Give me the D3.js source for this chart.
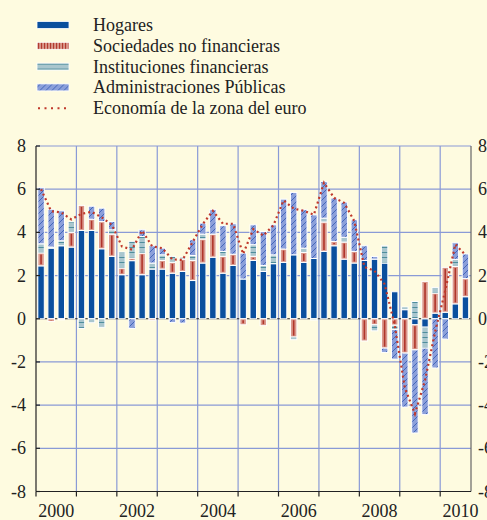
<!DOCTYPE html>
<html>
<head>
<meta charset="utf-8">
<title></title>
<script src="https://d3js.org/d3.v7.min.js"></script>
<style>
  body { margin: 0; background: #fefbe0; }
  svg { display: block; font-family: "Liberation Serif", "Times New Roman", serif; }
</style>
</head>
<body>
<script>
// trimestres 2000T1 - 2010T3
const quarters = d3.range(43).map(i => (2000 + Math.floor(i / 4)) + "T" + (i % 4 + 1))
const years = d3.range(2000, 2011)
const yearLabels = ["2000", "2002", "2004", "2006", "2008", "2010"]
const yTicks = [-8, -6, -4, -2, 0, 2, 4, 6, 8]

const hogares = [2.45, 3.27, 3.38, 3.32, 4.09, 4.09, 3.24, 2.89, 2.04, 2.69, 2.04, 2.30, 2.30, 2.11, 2.19, 1.77,
  2.58, 2.85, 2.11, 2.47, 1.84, 2.70, 2.19, 2.55, 2.61, 2.96, 2.61, 2.79, 3.12, 3.38, 2.76, 2.58,
  2.70, 2.76, 2.58, 1.25, 0.42, -0.28, -0.39, 0.26, 0.30, 0.69, 1.02]
const sociedades = [0.60, -0.13, -0.05, 0.68, 1.16, 0.52, 1.26, 1.03, 0.31, 0.12, 1.00, -0.07, 0.40, 0.50, 0.57, 0.93,
  1.11, 1.07, 0.78, 0.52, -0.28, 0.19, -0.32, 0.00, 0.62, -0.85, 0.46, 0.00, 1.36, 0.20, 0.79, 0.54,
  -1.03, -0.28, -1.36, -0.30, -1.59, -1.16, 1.73, 0.93, 2.08, 1.73, 0.84]
const instituciones = [0.42, 0.05, 0.23, 0.49, -0.45, -0.18, -0.40, 0.20, 0.74, 0.78, 0.77, 0.28, 0.26, 0.28, 0.09, 0.23,
  0.23, 0.00, 0.23, 0.00, 0.00, 0.54, 0.28, 0.41, 0.00, -0.12, 0.20, -0.06, 0.18, 0.00, 0.22, 0.00,
  0.00, -0.28, 0.80, -0.20, 0.12, 0.80, -0.97, 0.26, 0.00, 0.33, 0.00]
const administraciones = [2.60, 1.75, 1.39, 0.00, 0.00, 0.60, 0.62, 0.38, 0.00, -0.45, 0.31, 0.80, 0.31, -0.17, -0.20, 0.73,
  0.51, 1.13, 1.19, 1.41, 1.20, 0.92, 1.57, 1.39, 2.31, 2.89, 1.78, 2.02, 1.70, 2.01, 1.63, 1.46,
  0.68, 0.12, -0.20, -1.37, -2.50, -3.85, -3.08, -2.28, -0.94, 0.77, 1.14]
const economia = [6.0, 4.98, 4.92, 4.6, 4.86, 4.95, 4.7, 4.35, 3.35, 3.2, 4.08, 3.35, 3.27, 2.75, 2.72, 3.55,
  4.38, 5.0, 4.4, 4.4, 3.0, 4.15, 3.85, 4.33, 5.48, 5.1, 5.0, 4.82, 6.3, 5.6, 5.37, 4.52,
  2.4, 2.22, 1.6, -0.3, -3.2, -4.4, -2.85, -0.6, 1.3, 3.45, 2.95]

const series = ["Hogares", "Sociedades no financieras", "Instituciones financieras", "Administraciones Públicas"]
const seriesValues = [hogares, sociedades, instituciones, administraciones]

const W = 487, H = 520
const xLeft = 36, xRight = 470.5, yTop = 146, yBottom = 491.5

const svg = d3.select("body").append("svg").attr("width", W).attr("height", H)
svg.append("rect").attr("width", W).attr("height", H).attr("fill", "#fefbe0")

// patrones
const defs = svg.append("defs")
const pSoc = defs.append("pattern").attr("id", "pSoc").attr("patternUnits", "userSpaceOnUse")
  .attr("width", 3).attr("height", 4)
pSoc.append("rect").attr("width", 3).attr("height", 4).attr("fill", "#d9978a")
pSoc.append("rect").attr("x", 1).attr("width", 1.1).attr("height", 4).attr("fill", "#b23a30")

const pInst = defs.append("pattern").attr("id", "pInst").attr("patternUnits", "userSpaceOnUse")
  .attr("width", 8).attr("height", 5)
pInst.append("rect").attr("width", 8).attr("height", 5).attr("fill", "#a9c6ce")
pInst.append("rect").attr("y", 2).attr("width", 8).attr("height", 1).attr("fill", "#4e8d9c")

const pAdm = defs.append("pattern").attr("id", "pAdm").attr("patternUnits", "userSpaceOnUse")
  .attr("width", 6).attr("height", 6)
pAdm.append("rect").attr("width", 6).attr("height", 6).attr("fill", "#8b9fda")
pAdm.append("path").attr("d", "M-1,7 L7,-1 M-1,1 L1,-1 M5,7 L7,5")
  .attr("stroke", "#3158b3").attr("stroke-width", 0.8)

const colors = ["#0a4f9e", "url(#pSoc)", "url(#pInst)", "url(#pAdm)"]
const barColors = ["#0a4f9e", "#da998c", "url(#pInst)", "url(#pAdm)"]

// escalas
const x = d3.scaleBand().domain(d3.range(43)).range([xLeft, xRight]).paddingInner(0.36).paddingOuter(0.18)
const step = x.step()
const qx = q => xLeft + q * step
const y = d3.scaleLinear().domain([-8, 8]).range([yBottom, yTop])

// rejilla
const grid = svg.append("g").attr("stroke", "#8a9ad6").attr("stroke-width", 1.2)
grid.selectAll("line.h").data(yTicks.filter(d => d !== 0 && d !== -8)).join("line")
  .attr("x1", xLeft).attr("x2", xRight + 0.5).attr("y1", d => y(d)).attr("y2", d => y(d))
grid.selectAll("line.v").data(years.slice(1)).join("line")
  .attr("x1", d => qx((d - 2000) * 4)).attr("x2", d => qx((d - 2000) * 4))
  .attr("y1", yTop).attr("y2", yBottom)

svg.append("line").attr("x1", xLeft).attr("x2", xRight).attr("y1", y(0)).attr("y2", y(0))
  .attr("stroke", "#222").attr("stroke-width", 1)

// barras apiladas
const table = quarters.map((q, i) => {
  const row = { q: i }
  series.forEach((s, j) => row[s] = seriesValues[j][i])
  return row
})
const stacked = d3.stack().keys(series).offset(d3.stackOffsetDiverging)(table)

const layers = svg.append("g").selectAll("g").data(stacked).join("g")
  .attr("fill", (d, i) => barColors[i])
layers.selectAll("rect").data(d => d.filter(v => Math.abs(v[1] - v[0]) > 0.001)).join("rect")
  .attr("x", d => x(d.data.q))
  .attr("width", x.bandwidth())
  .attr("y", d => y(Math.max(d[0], d[1])))
  .attr("height", d => Math.abs(y(d[0]) - y(d[1])))
  .attr("stroke", "#ffffff").attr("stroke-width", 1)

// raya central de las sociedades no financieras
svg.append("g").selectAll("line")
  .data(stacked[1].filter(v => Math.abs(v[1] - v[0]) > 0.08)).join("line")
  .attr("x1", d => x(d.data.q) + x.bandwidth() / 2).attr("x2", d => x(d.data.q) + x.bandwidth() / 2)
  .attr("y1", d => y(Math.max(d[0], d[1])) + 1.5).attr("y2", d => y(Math.min(d[0], d[1])) - 1.5)
  .attr("stroke", "#b0352b").attr("stroke-width", 1.6)

// línea punteada
const line = d3.line().x((d, i) => x(i) + x.bandwidth() / 2).y(d => y(d))
svg.append("path").datum(economia).attr("d", line)
  .attr("fill", "none").attr("stroke", "#c0392b").attr("stroke-width", 2.2)
  .attr("stroke-dasharray", "2,3")

// ejes
const axis = svg.append("g").attr("stroke", "#222").attr("stroke-width", 1.2)
axis.append("line").attr("x1", xLeft).attr("x2", xLeft).attr("y1", yTop).attr("y2", yBottom)
axis.append("line").attr("x1", xRight + 0.5).attr("x2", xRight + 0.5).attr("y1", yTop).attr("y2", yBottom).attr("stroke", "#666")
axis.append("line").attr("x1", xLeft).attr("x2", xRight + 0.5).attr("y1", yBottom).attr("y2", yBottom)
axis.selectAll("line.t").data(yTicks).join("line")
  .attr("x1", xLeft).attr("x2", xLeft + 4).attr("y1", d => y(d)).attr("y2", d => y(d))
axis.selectAll("line.b").data(years).join("line")
  .attr("x1", d => qx((d - 2000) * 4)).attr("x2", d => qx((d - 2000) * 4))
  .attr("y1", yBottom).attr("y2", yBottom + 5)

svg.append("g").selectAll("text").data(yTicks).join("text")
  .attr("x", 26).attr("y", d => y(d) + 6).attr("text-anchor", "end")
  .attr("font-size", 18).attr("fill", "#222").text(d => d)
svg.append("g").selectAll("text").data(yTicks).join("text")
  .attr("x", 478).attr("y", d => y(d) + 6).attr("text-anchor", "start")
  .attr("font-size", 18).attr("fill", "#222").text(d => d)
svg.append("g").selectAll("text").data(yearLabels).join("text")
  .attr("x", d => qx((+d - 2000) * 4 + 2)).attr("y", 517).attr("text-anchor", "middle")
  .attr("font-size", 18).attr("fill", "#222").text(d => d)

// leyenda
const legendNames = series.concat(["Economía de la zona del euro"])
const legend = svg.append("g").selectAll("g").data(legendNames).join("g")
  .attr("transform", (d, i) => `translate(37, ${25 + i * 20.8})`)
legend.filter((d, i) => i < 4).append("rect")
  .attr("x", 0).attr("y", -3.5).attr("width", 32).attr("height", 7)
  .attr("fill", (d, i) => colors[i]).attr("stroke", "#ffffff").attr("stroke-width", 0.8)
legend.filter((d, i) => i === 4).append("line")
  .attr("x1", 1).attr("x2", 32).attr("y1", 0).attr("y2", 0)
  .attr("stroke", "#c0392b").attr("stroke-width", 2).attr("stroke-dasharray", "2,4.5")
legend.append("text").attr("x", 56).attr("y", 6)
  .attr("font-size", 18).attr("fill", "#222").text(d => d)
</script>
</body>
</html>
